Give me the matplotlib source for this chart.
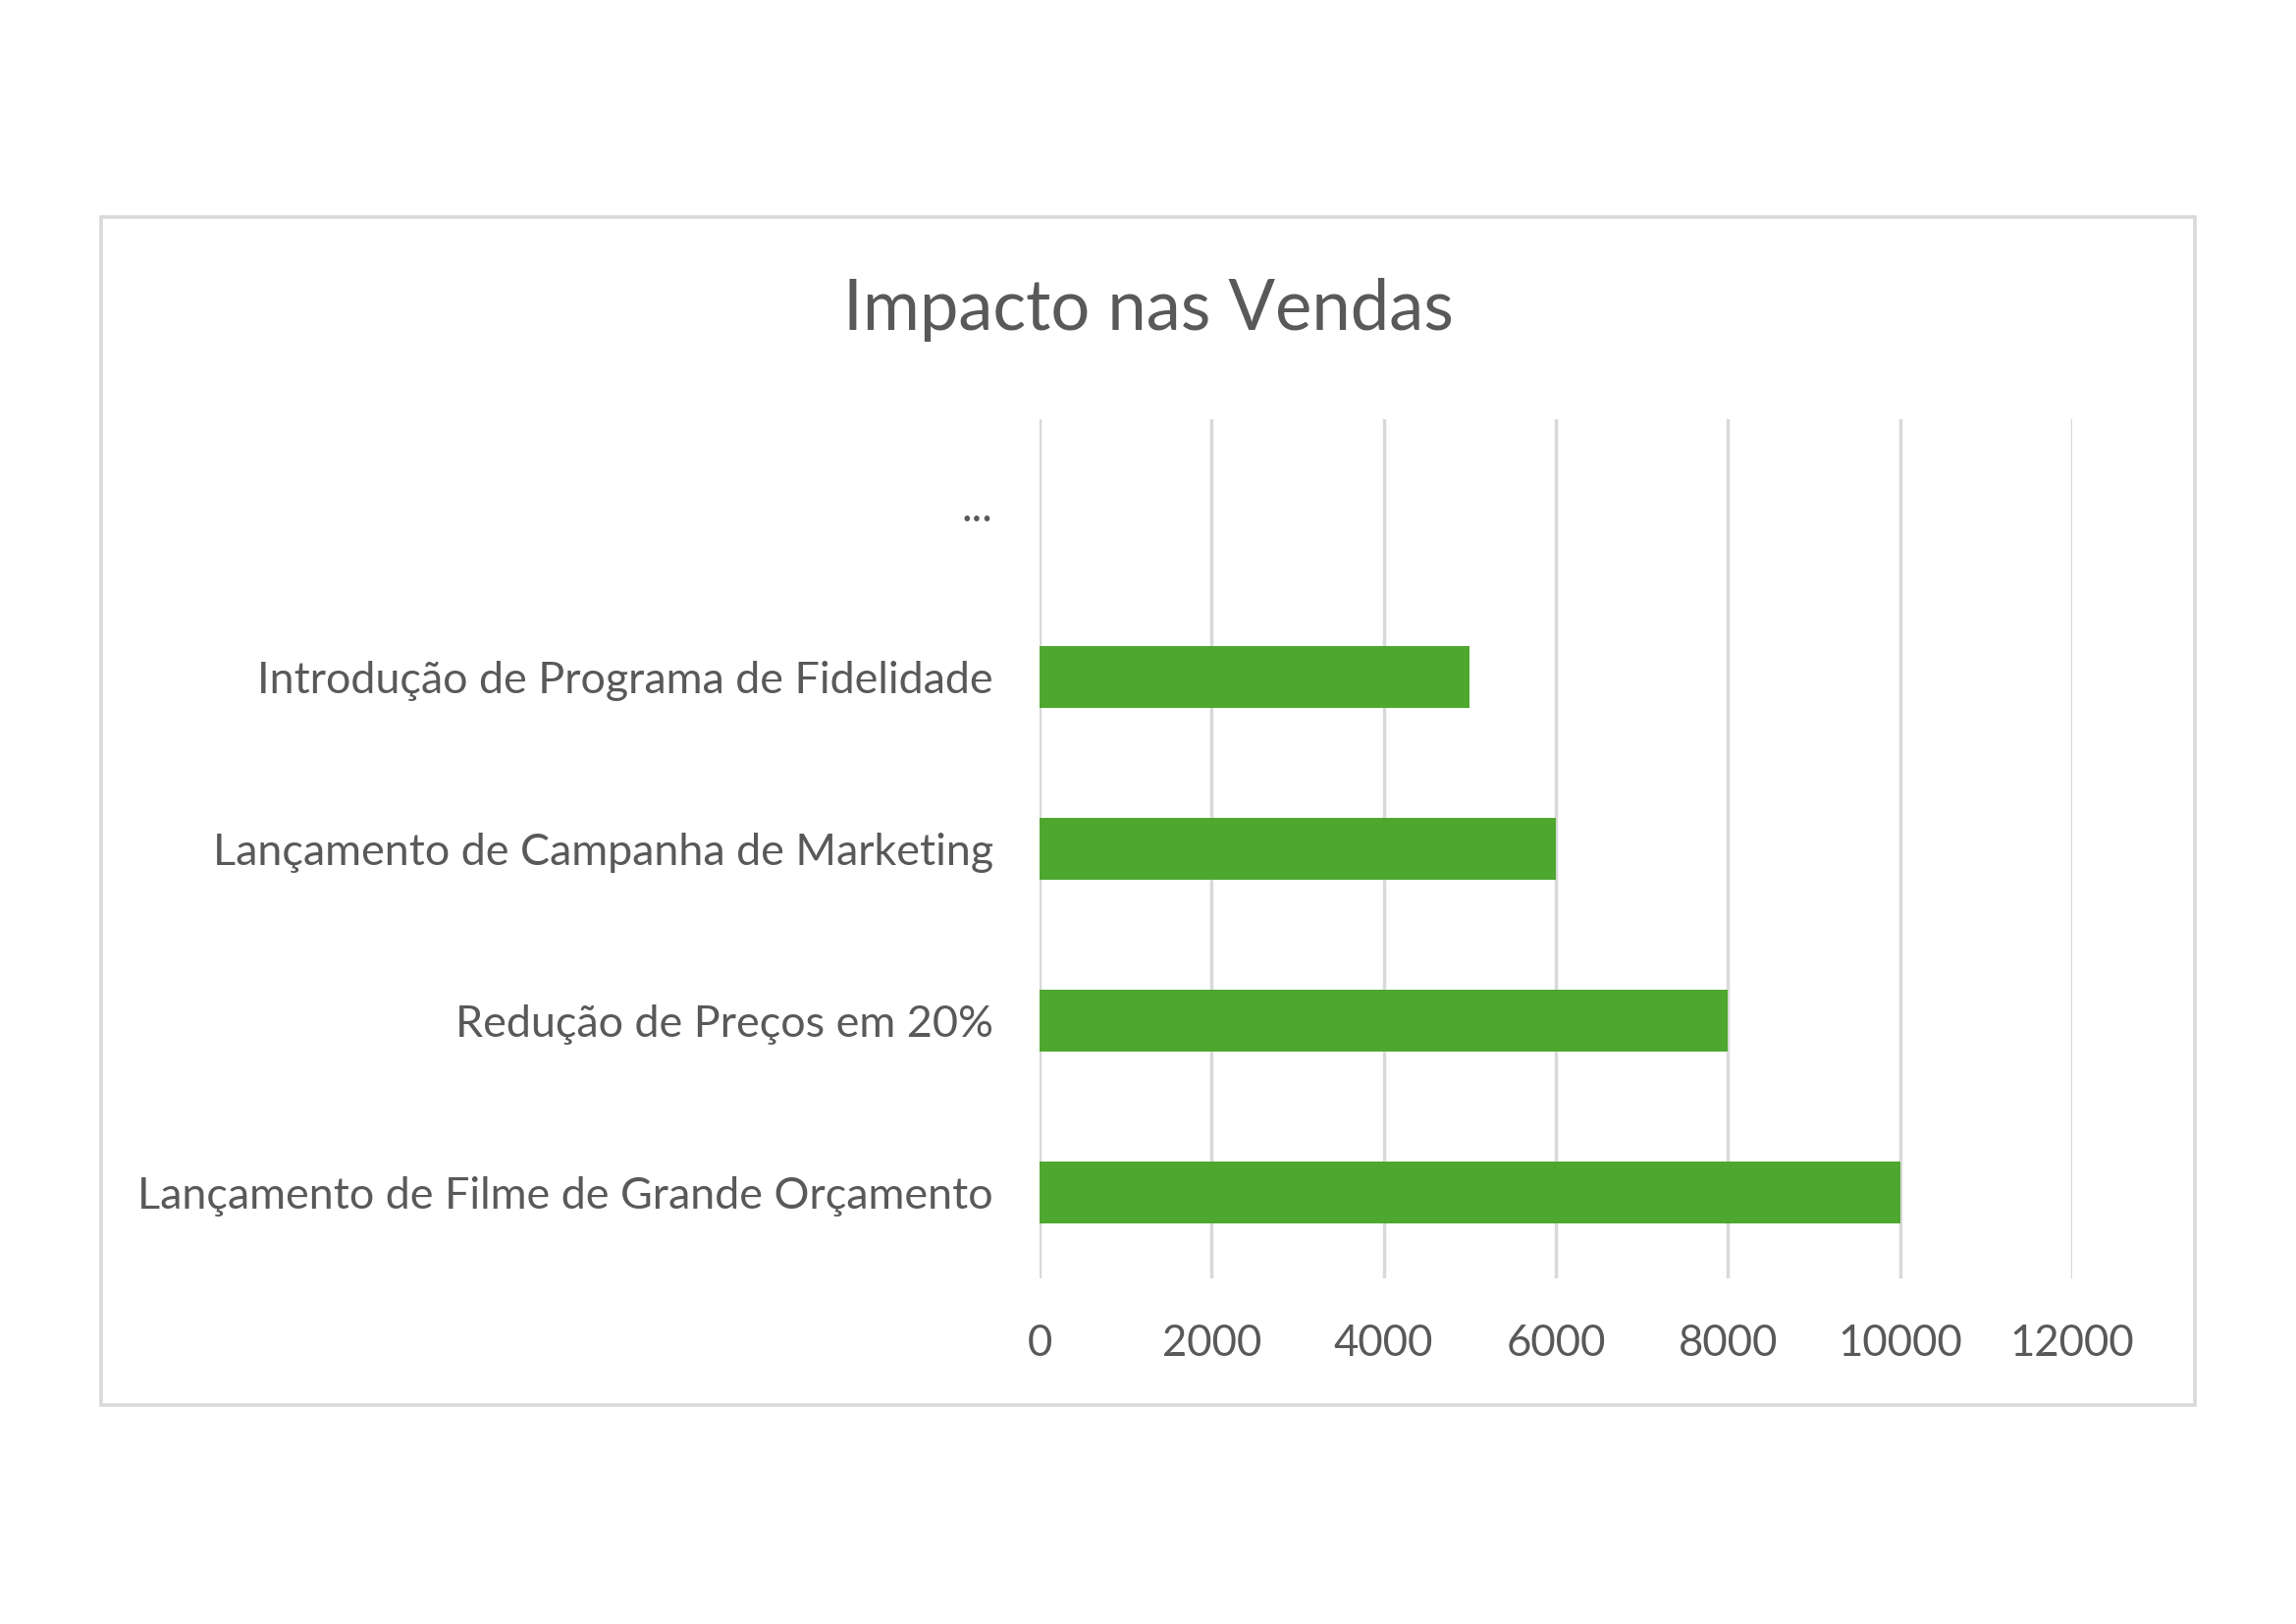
import matplotlib.pyplot as plt
from matplotlib.patches import Rectangle

# dados do gráfico (de baixo para cima, como no Excel)
acoes = ['Lançamento de Filme de Grande Orçamento',
         'Redução de Preços em 20%',
         'Lançamento de Campanha de Marketing',
         'Introdução de Programa de Fidelidade',
         '...']
impacto = [10000, 8000, 6000, 5000, 0]
ticks_x = [0, 2000, 4000, 6000, 8000, 10000, 12000]

W, H = 2339, 1654
plt.rcParams['font.family'] = ['Lato', 'DejaVu Sans']
fig = plt.figure(figsize=(W / 100, H / 100), dpi=100)

# moldura do gráfico
fig.patches.append(Rectangle((103 / W, 1 - 1431 / H), (2236 - 103) / W, (1431 - 221) / H,
                             transform=fig.transFigure, fill=False,
                             edgecolor='#d9d9d9', linewidth=2.6))

ax = fig.add_axes([1059 / W, 1 - 1302 / H, (2111 - 1059) / W, (1302 - 427) / H])
ax.barh(range(len(acoes)), impacto, height=0.36, color='#4ea72e', zorder=3)
ax.set_ylim(-0.5, len(acoes) - 0.5)
ax.set_xlim(0, 12000)
ax.set_xticks(ticks_x)
ax.set_yticks(range(len(acoes)))
ax.set_yticklabels(acoes, fontsize=32.3)
ax.grid(axis='x', color='#d9d9d9', linewidth=2.5, zorder=0)
for s in ax.spines.values():
    s.set_visible(False)
ax.tick_params(length=0, colors='#595959')
ax.tick_params(axis='x', labelsize=31.5, pad=33)
ax.tick_params(axis='y', pad=34)

fig.text(1170 / W, 1 - 316 / H, 'Impacto nas Vendas', ha='center', va='center',
         fontsize=50.8, color='#595959')

fig.savefig('out.png', dpi=100, facecolor='white')
